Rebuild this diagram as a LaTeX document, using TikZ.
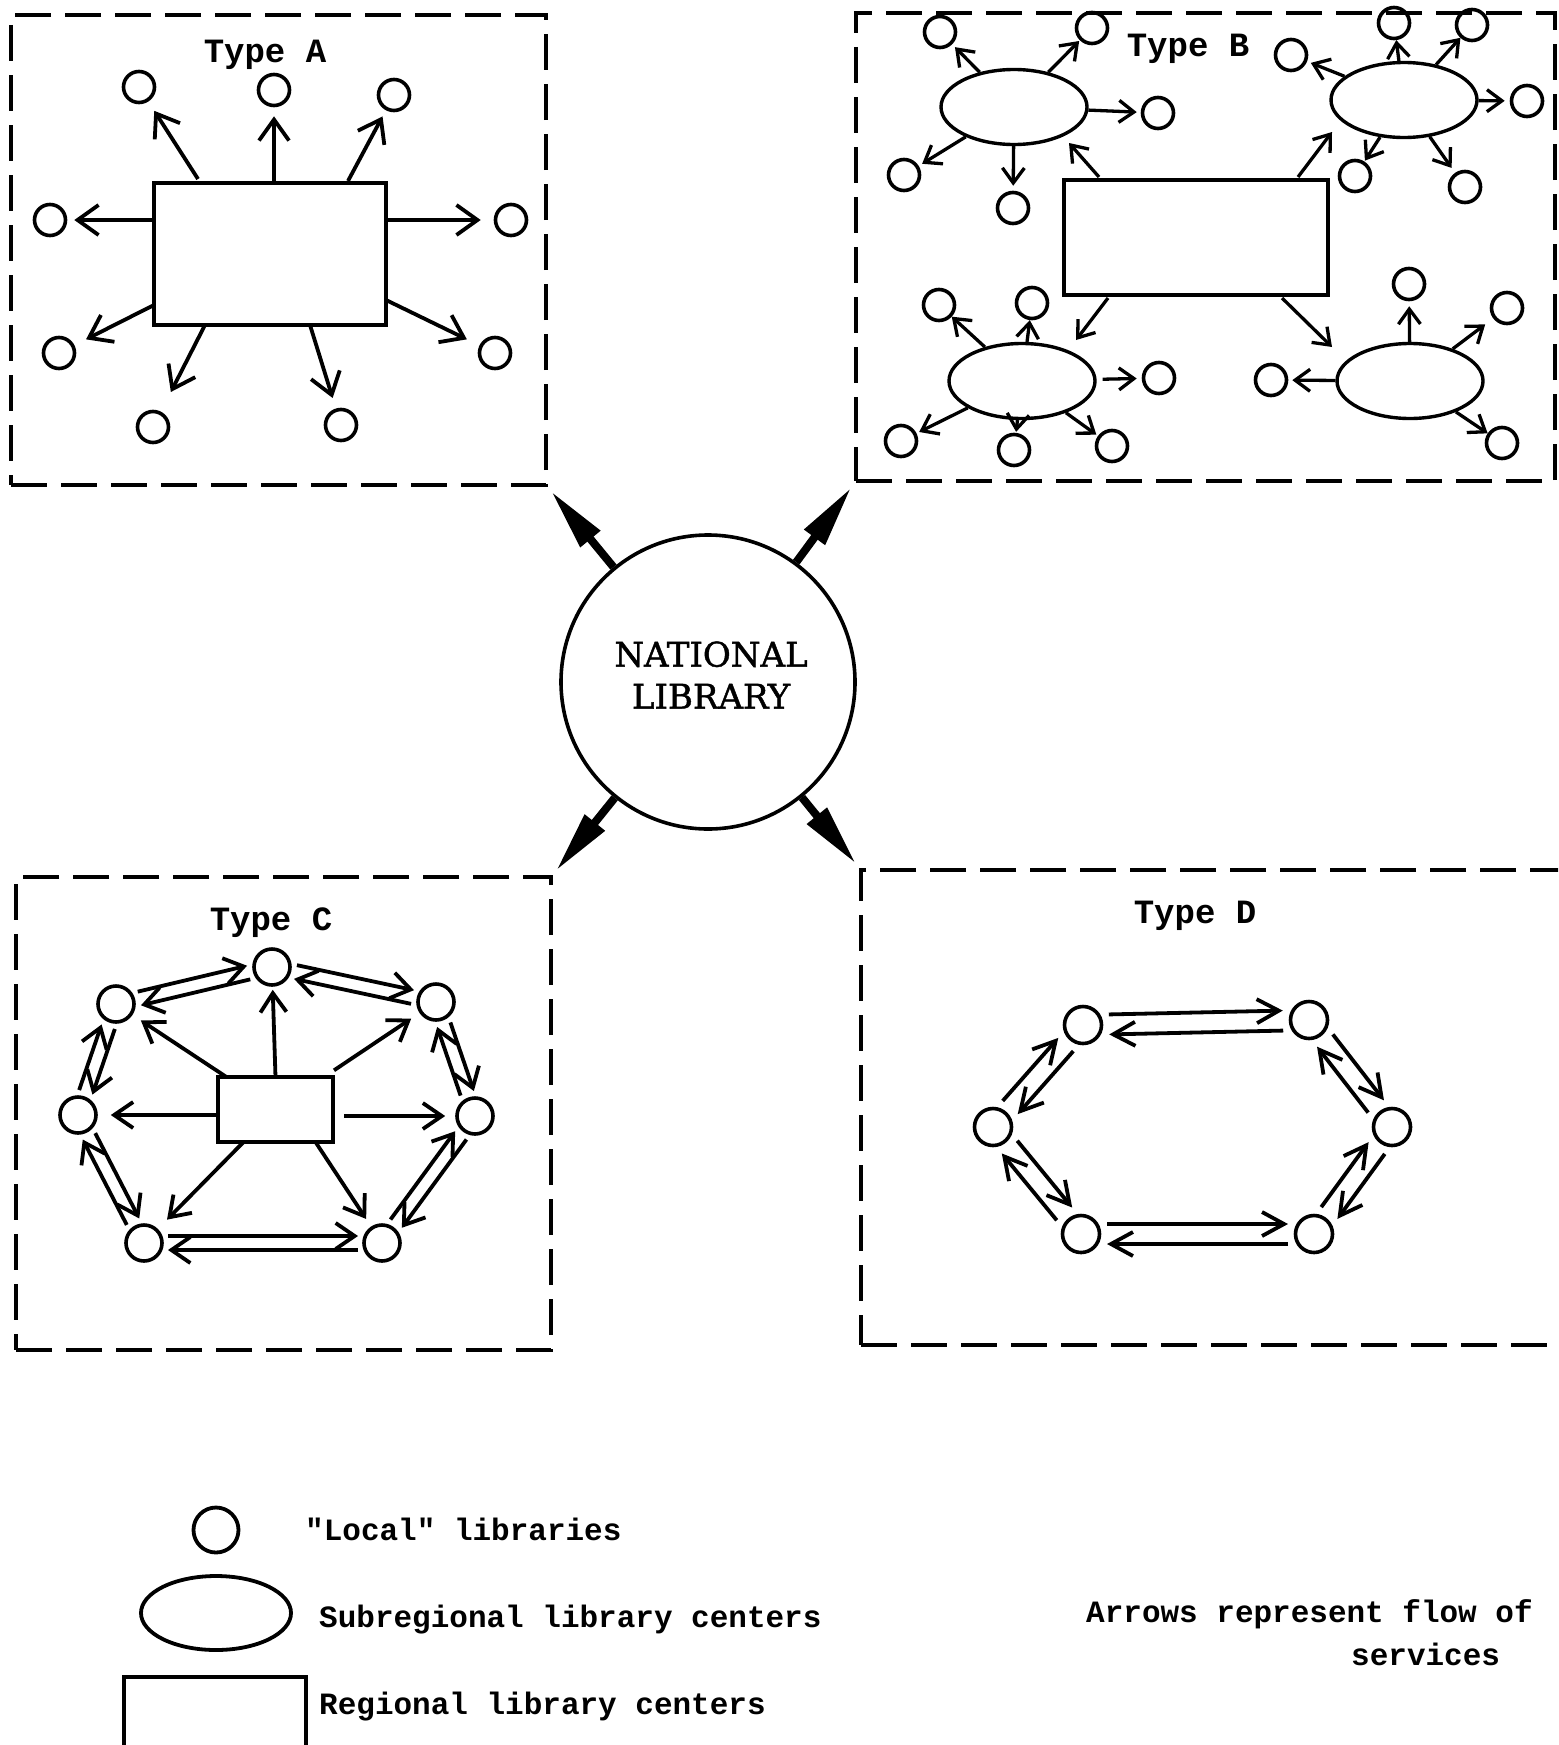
\documentclass[tikz,border=0pt]{standalone}
\usepackage{fontspec}
\newfontfamily\tw{Liberation Mono}
\newfontfamily\natfont{DejaVu Serif}[FakeBold=1.3]
\usetikzlibrary{arrows.meta,shapes.geometric,calc}
\newcommand\pairarr[5]{%
  \draw[#5] ($(#1)!#3!(#2)!#4!90:(#2)$) -- ($(#2)!#3!(#1)!#4!-90:(#1)$);
  \draw[#5] ($(#2)!#3!(#1)!#4!90:(#1)$) -- ($(#1)!#3!(#2)!#4!-90:(#2)$);
}
\begin{document}
\begin{tikzpicture}[x=1pt,y=-1pt,
  dbox/.style={draw, line width=3.6pt, dash pattern=on 36pt off 14pt, rectangle, inner sep=0pt, outer sep=0pt, anchor=north west},
  lcirc/.style={circle, draw, line width=3.6pt, inner sep=0pt, minimum size=31pt},
  ccirc/.style={lcirc, minimum size=36pt},
  dcirc/.style={lcirc, minimum size=37pt},
  subell/.style={ellipse, draw, line width=3.4pt, inner sep=0pt, minimum width=146pt, minimum height=75pt},
  regbox/.style={rectangle, draw, line width=3.8pt, inner sep=0pt, outer sep=0pt, anchor=north west},
  arwA/.style={line width=3.8pt, -{Straight Barb[length=21pt,width=30pt]}},
  arwB/.style={line width=3.3pt, -{Straight Barb[length=15pt,width=22pt]}, shorten >=3pt},
  arwC/.style={line width=3.8pt, -{Straight Barb[length=19pt,width=26pt]}},
  arwD/.style={line width=3.8pt, -{Straight Barb[length=22pt,width=24pt]}},
  bigarw/.style={line width=8pt, -{Triangle[length=62pt,width=24pt]}, shorten >=8pt},
  lbl/.style={font=\tw\bfseries\fontsize{34}{40}\selectfont, anchor=base, inner sep=0pt},
  leg/.style={font=\tw\bfseries\fontsize{31}{37}\selectfont, anchor=base west, inner sep=0pt},
]
\useasboundingbox (0,0) rectangle (1558,1745);
\clip (0,0) rectangle (1558,1745);
\fill[white] (0,0) rectangle (1558,1745);

% ---------- dashed region boxes ----------
\node[dbox, minimum width=535, minimum height=470] (BA) at (11,15) {};
\node[dbox, minimum width=699, minimum height=468] (BB) at (856,13) {};
\node[dbox, minimum width=535, minimum height=473] (BC) at (16,877) {};
\node[dbox, minimum width=740, minimum height=475] (BD) at (861,870) {};

% ---------- national library ----------
\node[circle, draw, line width=3.6pt, minimum size=294pt, inner sep=0pt] (NL) at (708,682) {};
\node[font=\natfont\fontsize{34}{42}\selectfont, align=center, inner sep=0pt] (NLtext) at (711,675) {NATIONAL\\LIBRARY};
\draw[bigarw] (NL) -- (BA.south east);
\draw[bigarw] (NL) -- (BB.south west);
\draw[bigarw] (NL) -- (BC.north east);
\draw[bigarw] (NL) -- (BD.north west);

% ---------- Type A ----------
\node[lbl] (TA) at (265,63) {Type A};
\node[regbox, minimum width=232, minimum height=142] (RA) at (154,183) {};
\node[lcirc] (LA1) at (139,87) {};
\node[lcirc] (LA2) at (274,90) {};
\node[lcirc] (LA3) at (394,95) {};
\node[lcirc] (LA4) at (50,220) {};
\node[lcirc] (LA5) at (511,220) {};
\node[lcirc] (LA6) at (59,353) {};
\node[lcirc] (LA7) at (495,353) {};
\node[lcirc] (LA8) at (153,427) {};
\node[lcirc] (LA9) at (341,425) {};
\draw[arwA, shorten >=11pt] ([xshift=-72pt,yshift=4pt]RA.north) -- (LA1);
\draw[arwA, shorten >=9pt] (RA.north -| LA2) -- (LA2);
\draw[arwA, shorten >=7pt] ([xshift=78pt,yshift=2pt]RA.north) -- (LA3);
\draw[arwA, shorten >=7pt] (RA.west |- LA4) -- (LA4);
\draw[arwA, shorten >=13pt] (RA.east |- LA5) -- (LA5);
\draw[arwA, shorten >=13pt] ([yshift=-51pt]RA.west) -- (LA6);
\draw[arwA, shorten >=14pt] ([yshift=-46pt]RA.east) -- (LA7);
\draw[arwA, shorten >=22pt] ([xshift=-65pt]RA.south) -- (LA8);
\draw[arwA, shorten >=11pt] ([xshift=40pt]RA.south) -- (LA9);

% ---------- Type B ----------
\node[lbl] (TB) at (1188,57) {Type B};
\node[regbox, minimum width=264, minimum height=115] (RB) at (1064,180) {};
\node[subell] (E1) at (1014,107) {};
\node[subell] (E2) at (1404,100) {};
\node[subell] (E3) at (1022,381) {};
\node[subell] (E4) at (1410,381) {};
\node[lcirc] (Ba) at (940,32) {};
\node[lcirc] (Bb) at (1092,28) {};
\node[lcirc] (Bc) at (1158,113) {};
\node[lcirc] (Bd) at (904,175) {};
\node[lcirc] (Be) at (1013,208) {};
\node[lcirc] (Bf) at (1291,55) {};
\node[lcirc] (Bg) at (1394,23) {};
\node[lcirc] (Bh) at (1472,25) {};
\node[lcirc] (Bi) at (1527,101) {};
\node[lcirc] (Bj) at (1355,176) {};
\node[lcirc] (Bk) at (1465,187) {};
\node[lcirc] (Bl) at (939,305) {};
\node[lcirc] (Bm) at (1032,303) {};
\node[lcirc] (Bn) at (1159,378) {};
\node[lcirc] (Bo) at (901,441) {};
\node[lcirc] (Bp) at (1014,450) {};
\node[lcirc] (Bq) at (1112,446) {};
\node[lcirc] (Br) at (1271,380) {};
\node[lcirc] (Bs) at (1409,284) {};
\node[lcirc] (Bt) at (1507,308) {};
\node[lcirc] (Bu) at (1502,443) {};
\draw[arwB, shorten >=4pt] (E1) -- (Ba);
\draw[arwB, shorten >=1pt] (E1) -- (Bb);
\draw[arwB, shorten >=4pt] (E1) -- (Bc);
\draw[arwB, shorten >=4pt] (E1) -- (Bd);
\draw[arwB, shorten >=5pt] (E1) -- (Be);
\draw[arwB, shorten >=4pt] (E2) -- (Bf);
\draw[arwB, shorten >=0pt] (E2) -- (Bg);
\draw[arwB, shorten >=0pt] (E2) -- (Bh);
\draw[arwB, shorten >=5pt] (E2) -- (Bi);
\draw[arwB, shorten >=1pt] (E2) -- (Bj);
\draw[arwB, shorten >=6pt] (E2) -- (Bk);
\draw[arwB, shorten >=0pt] (E3) -- (Bl);
\draw[arwB, shorten >=0pt] (E3) -- (Bm);
\draw[arwB, shorten >=5pt, shorten <=6pt] (E3) -- (Bn);
\draw[arwB, shorten >=3pt] (E3) -- (Bo);
\draw[arwB, shorten >=1pt] (E3) -- (Bp);
\draw[arwB, shorten >=2pt] (E3) -- (Bq);
\draw[arwB, shorten >=4pt] (E4) -- (Br);
\draw[arwB, shorten >=5pt] (E4) -- (Bs);
\draw[arwB, shorten >=10pt] (E4) -- (Bt);
\draw[arwB, shorten >=0pt] (E4) -- (Bu);
\draw[arwB, shorten >=0pt] ([xshift=35pt,yshift=3pt]RB.north west) -- ([shift={(55,36)}]E1.center);
\draw[arwB, shorten >=0pt] ([xshift=-30pt,yshift=3pt]RB.north east) -- ([shift={(-72,32)}]E2.center);
\draw[arwB, shorten >=0pt] ([xshift=44pt,yshift=-3pt]RB.south west) -- ([shift={(54,-41)}]E3.center);
\draw[arwB, shorten >=0pt] ([xshift=-46pt,yshift=-3pt]RB.south east) -- ([shift={(-78,-34)}]E4.center);

% ---------- Type C ----------
\node[lbl] (TC) at (271,930) {Type C};
\node[regbox, minimum width=115, minimum height=65] (RC) at (218,1077) {};
\node[ccirc] (C1) at (272,967) {};
\node[ccirc] (C2) at (116,1004) {};
\node[ccirc] (C3) at (436,1002) {};
\node[ccirc] (C4) at (78,1115) {};
\node[ccirc] (C5) at (475,1116) {};
\node[ccirc] (C6) at (144,1243) {};
\node[ccirc] (C7) at (382,1243) {};
\draw[arwC, shorten >=3pt] (RC.north) -- (C1);
\draw[arwC, shorten >=10pt] (RC) -- (C2);
\draw[arwC, shorten <=12pt, shorten >=10pt] (RC) -- (C3);
\draw[arwC, shorten >=13pt] (RC.west |- C4) -- (C4);
\draw[arwC, shorten <=11pt, shorten >=10pt] (RC.east |- C5) -- (C5);
\draw[arwC, shorten >=13pt] (RC) -- (C6);
\draw[arwC, shorten >=9pt] ([xshift=40pt]RC.south) -- (C7);
\pairarr{C1}{C3}{24pt}{7pt}{arwC}
\pairarr{C3}{C5}{24pt}{7pt}{arwC}
\pairarr{C5}{C7}{24pt}{7pt}{arwC}
\pairarr{C7}{C6}{24pt}{7pt}{arwC}
\pairarr{C6}{C4}{24pt}{7pt}{arwC}
\pairarr{C4}{C2}{24pt}{7pt}{arwC}
\pairarr{C2}{C1}{24pt}{7pt}{arwC}

% ---------- Type D ----------
\node[lbl] (TD) at (1195,923) {Type D};
\node[dcirc] (D1) at (1083,1025) {};
\node[dcirc] (D2) at (1309,1020) {};
\node[dcirc] (D3) at (993,1127) {};
\node[dcirc] (D4) at (1392,1127) {};
\node[dcirc] (D5) at (1081,1234) {};
\node[dcirc] (D6) at (1314,1234) {};
\pairarr{D1}{D2}{26pt}{10pt}{arwD}
\pairarr{D2}{D4}{26pt}{10pt}{arwD}
\pairarr{D4}{D6}{26pt}{10pt}{arwD}
\pairarr{D6}{D5}{26pt}{10pt}{arwD}
\pairarr{D5}{D3}{26pt}{10pt}{arwD}
\pairarr{D3}{D1}{26pt}{10pt}{arwD}

% ---------- legend ----------
\node[lcirc, minimum size=45pt, line width=3.8pt] (LgC) at (216,1530) {};
\node[subell, minimum width=150pt, minimum height=74pt, line width=3.8pt] (LgE) at (216,1613) {};
\node[regbox, minimum width=182, minimum height=100] (LgR) at (124,1677) {};
\node[leg] (Lg1) at (305,1540) {"Local" libraries};
\node[leg] (Lg2) at (319,1627) {Subregional library centers};
\node[leg] (Lg3) at (319,1714) {Regional library centers};
\node[leg] (Lg4) at (1086,1622) {Arrows represent flow of};
\node[leg] (Lg5) at (1351,1665) {services};
\end{tikzpicture}
\end{document}
